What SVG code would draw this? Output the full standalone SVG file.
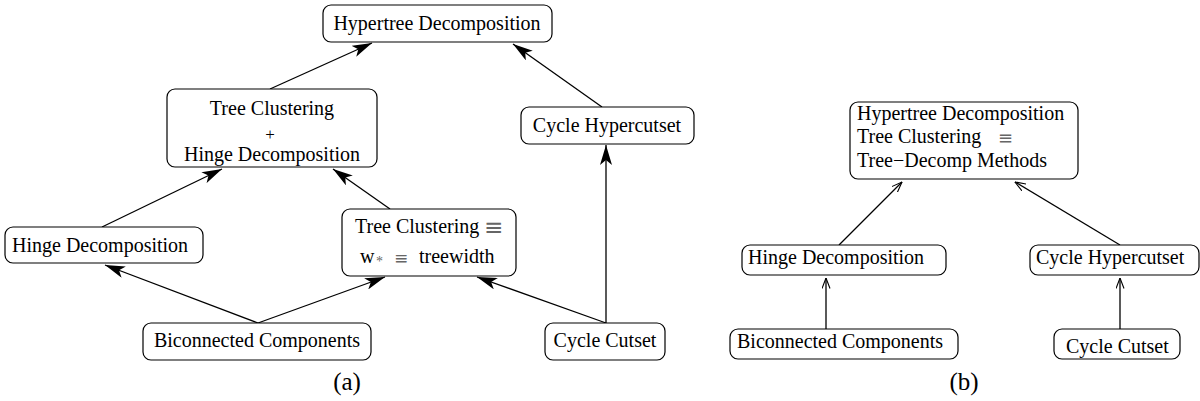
<svg xmlns="http://www.w3.org/2000/svg" width="1200" height="401" viewBox="0 0 1200 401">
<style>
.box{fill:#fff;stroke:#000;stroke-width:1.2}
text{font-family:"Liberation Serif","Times New Roman",serif;font-size:20px;fill:#000}
.c{text-anchor:middle}
.e{stroke:#000;stroke-width:1.3;fill:none}
.eq{font-family:"DejaVu Sans",sans-serif;fill:#666}
.st{fill:#666}
</style>
<defs>
<marker id="fa" markerUnits="userSpaceOnUse" viewBox="0 0 20 12" markerWidth="20" markerHeight="12" refX="20" refY="6" orient="auto">
<path d="M0,0 L20,6 L0,12 L5,6 z" fill="#000"/>
</marker>
<marker id="oa" markerUnits="userSpaceOnUse" viewBox="0 0 11 9" markerWidth="11" markerHeight="9" refX="10.5" refY="4.5" orient="auto">
<path d="M0,0.5 L10.5,4.5 L0,8.5" fill="none" stroke="#000" stroke-width="1.1"/>
</marker>
</defs>
<g id="connectors">
<line class="e" x1="270" y1="89" x2="372" y2="43" marker-end="url(#fa)"/>
<line class="e" x1="602" y1="107" x2="513" y2="44" marker-end="url(#fa)"/>
<line class="e" x1="102" y1="227" x2="222" y2="169" marker-end="url(#fa)"/>
<line class="e" x1="390" y1="209" x2="333" y2="169" marker-end="url(#fa)"/>
<line class="e" x1="258" y1="323" x2="105" y2="265" marker-end="url(#fa)"/>
<line class="e" x1="258" y1="323" x2="385" y2="277" marker-end="url(#fa)"/>
<line class="e" x1="606" y1="323" x2="477" y2="277" marker-end="url(#fa)"/>
<line class="e" x1="606" y1="323" x2="606" y2="145" marker-end="url(#fa)"/>
<line class="e" x1="839" y1="245" x2="902" y2="182" marker-end="url(#oa)"/>
<line class="e" x1="1120" y1="245" x2="1015" y2="182" marker-end="url(#oa)"/>
<line class="e" x1="826" y1="329" x2="826" y2="278" marker-end="url(#oa)"/>
<line class="e" x1="1120" y1="329" x2="1120" y2="278" marker-end="url(#oa)"/>
</g>
<g id="a-hypertree">
<rect class="box" x="323" y="5" width="229" height="37" rx="8"/>
<text x="437" y="30" class="c">Hypertree Decomposition</text>
</g>
<g id="a-tc-hinge">
<rect class="box" x="167" y="89" width="210" height="78" rx="8"/>
<text x="272" y="115" class="c">Tree Clustering</text>
<text x="270" y="140" class="c" style="font-size:17px">+</text>
<text x="272" y="161" class="c">Hinge Decomposition</text>
</g>
<g id="a-cycle-hypercutset">
<rect class="box" x="521" y="107" width="173" height="37" rx="8"/>
<text x="607" y="132" class="c">Cycle Hypercutset</text>
</g>
<g id="a-hinge">
<rect class="box" x="5" y="227" width="198" height="36" rx="8"/>
<text x="12" y="252">Hinge Decomposition</text>
</g>
<g id="a-tc-treewidth">
<rect class="box" x="342" y="209" width="174" height="67" rx="8"/>
<text x="355" y="233">Tree Clustering</text>
<text x="484" y="235" class="eq" style="font-size:23px">≡</text>
<text x="360" y="263">w</text>
<text x="376" y="266" class="st" style="font-size:14px">*</text>
<text x="394" y="264" class="eq" style="font-size:17px">≡</text>
<text x="419" y="263">treewidth</text>
</g>
<g id="a-biconnected">
<rect class="box" x="143" y="323" width="228" height="37" rx="8"/>
<text x="257" y="347" class="c">Biconnected Components</text>
</g>
<g id="a-cycle-cutset">
<rect class="box" x="545" y="323" width="120" height="37" rx="8"/>
<text x="605" y="347" class="c">Cycle Cutset</text>
</g>
<text x="347" y="390" class="c" style="font-size:25px">(a)</text>
<g id="b-hypertree">
<rect class="box" x="850" y="102" width="228" height="77" rx="8"/>
<text x="857" y="120">Hypertree Decomposition</text>
<text x="857" y="143">Tree Clustering</text>
<text x="998" y="144" class="eq" style="font-size:18px">≡</text>
<text x="857" y="167">Tree−Decomp Methods</text>
</g>
<g id="b-hinge">
<rect class="box" x="742" y="245" width="204" height="30" rx="8"/>
<text x="748" y="264">Hinge Decomposition</text>
</g>
<g id="b-cycle-hypercutset">
<rect class="box" x="1030" y="245" width="169" height="30" rx="8"/>
<text x="1036" y="264">Cycle Hypercutset</text>
</g>
<g id="b-biconnected">
<rect class="box" x="730" y="329" width="228" height="30" rx="8"/>
<text x="737" y="348">Biconnected Components</text>
</g>
<g id="b-cycle-cutset">
<rect class="box" x="1054" y="329" width="126" height="30" rx="8"/>
<text x="1066" y="353">Cycle Cutset</text>
</g>
<text x="964" y="390" class="c" style="font-size:25px">(b)</text>
</svg>
